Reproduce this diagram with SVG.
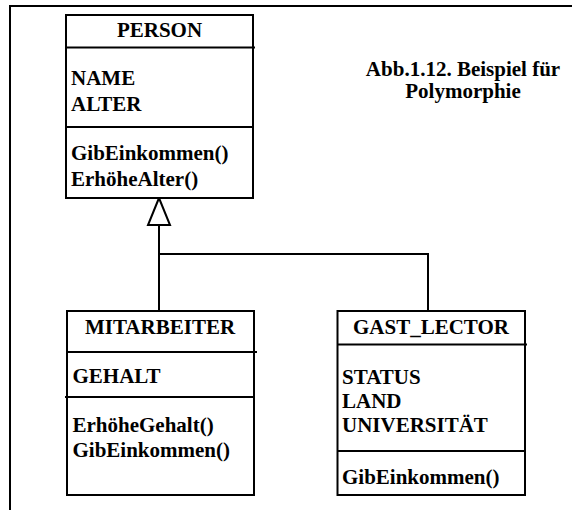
<svg xmlns="http://www.w3.org/2000/svg" width="572" height="510" viewBox="0 0 572 510">
<style>
text{font-family:"Liberation Serif","Times New Roman",serif;font-weight:bold;font-size:21px;fill:#000}
.t{text-anchor:middle}
.b{fill:#fff;stroke:#000;stroke-width:2}
.l{stroke:#000;stroke-width:2;fill:none}
</style>
<rect width="572" height="510" fill="#fff"/>
<path class="l" d="M10,510 V6 H572"/>
<g id="title">
<text class="t" x="463" y="76">Abb.1.12. Beispiel für</text>
<text class="t" x="463" y="98">Polymorphie</text>
</g>
<g id="connectors">
<path class="l" d="M159,225 V311 M159,254 H428 V311"/>
<polygon class="b" points="159,198 148,225 170,225"/>
</g>
<g id="person">
<rect class="b" x="66" y="15" width="187" height="183"/>
<path class="l" d="M66,47.5 H255 M66,127 H253"/>
<text class="t" x="159.5" y="37">PERSON</text>
<text x="71" y="85">NAME</text>
<text x="71" y="111">ALTER</text>
<text x="71" y="160">GibEinkommen()</text>
<text x="71" y="186">ErhöheAlter()</text>
</g>
<g id="mitarbeiter">
<rect class="b" x="67" y="311" width="187" height="184"/>
<path class="l" d="M67,352 H257 M65,397 H254"/>
<text class="t" x="160" y="334">MITARBEITER</text>
<text x="72.5" y="383">GEHALT</text>
<text x="72.5" y="432">ErhöheGehalt()</text>
<text x="72.5" y="457">GibEinkommen()</text>
</g>
<g id="gast_lector">
<rect class="b" x="337.5" y="311" width="187.5" height="184"/>
<path class="l" d="M337.5,344.5 H527 M337.5,451 H525"/>
<text class="t" x="431" y="333.5">GAST_LECTOR</text>
<text x="342" y="384">STATUS</text>
<text x="342" y="408">LAND</text>
<text x="342" y="432">UNIVERSITÄT</text>
<text x="342" y="484">GibEinkommen()</text>
</g>
</svg>
